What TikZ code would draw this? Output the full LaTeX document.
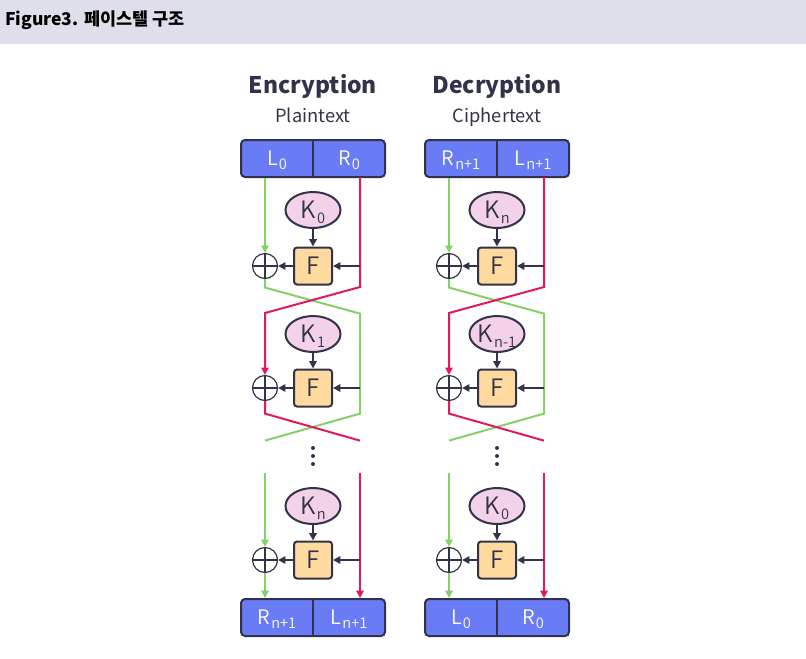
\documentclass[tikz,border=0pt]{standalone}
\usepackage{fontspec}
\setmainfont{Noto Sans CJK KR}
\newfontfamily\lightfont{Noto Sans CJK KR DemiLight}
\usetikzlibrary{shapes.geometric,arrows.meta}
\definecolor{hdr}{HTML}{DFDFEB}
\definecolor{dark}{HTML}{32324A}
\definecolor{boxblue}{HTML}{6A7BF6}
\definecolor{keypink}{HTML}{F3D1E8}
\definecolor{fnorange}{HTML}{FFDA9E}
\definecolor{grn}{HTML}{84D166}
\definecolor{crim}{HTML}{E2185C}
\newcommand{\lsub}[1]{\kern0.8pt\raisebox{-0.35ex}[0pt][0pt]{\fontsize{11}{11}\selectfont #1}}

\begin{document}
\begin{tikzpicture}[x=0.75pt, y=-0.75pt, >={Triangle[length=5.5pt,width=5.5pt]}]

    \tikzstyle{blk} = [draw=dark, line width=1.5pt, rounded corners=3pt, fill=boxblue, minimum width=108pt, minimum height=27.75pt, inner sep=0pt]
    \tikzstyle{lbl} = [text=white, font=\lightfont\fontsize{15}{15}\selectfont, inner sep=0pt]
    \tikzstyle{key} = [draw=dark, ellipse, line width=1.5pt, fill=keypink, minimum width=41.25pt, minimum height=27pt, inner sep=0pt, text=dark, font=\lightfont\fontsize{18}{18}\selectfont]
    \tikzstyle{fn} = [draw=dark, rounded corners=2.25pt, line width=1.5pt, fill=fnorange, minimum width=28.5pt, minimum height=27.75pt, inner sep=0pt, text=dark, font=\lightfont\fontsize{18}{18}\selectfont]
    \tikzstyle{xor} = [draw=dark, circle, line width=0.9pt, minimum size=18.75pt, inner sep=0pt, path picture={\draw[dark, line width=0.9pt] (path picture bounding box.north) -- (path picture bounding box.south) (path picture bounding box.west) -- (path picture bounding box.east);}]
    \tikzstyle{gline} = [grn, line width=1.5pt]
    \tikzstyle{rline} = [crim, line width=1.5pt]
    \tikzstyle{farrow} = [dark, line width=1.5pt]

    \useasboundingbox (0,0) rectangle (806,658);

    % Header
    \fill[hdr] (0,0) rectangle (806,44);
    \node[anchor=base west, inner sep=0pt, font=\bfseries\fontsize{13.1}{13.1}\selectfont] at (5,25) (title) {Figure3. 페이스텔 구조};

    % Labels
    \node[anchor=base, inner sep=0pt, text=dark, font=\bfseries\fontsize{17.2}{17.2}\selectfont] at (313,93) (enchead) {Encryption};
    \node[anchor=base, inner sep=0pt, text=dark, font=\fontsize{13.7}{13.7}\selectfont] at (313,122) (encsub) {Plaintext};
    \node[anchor=base, inner sep=0pt, text=dark, font=\bfseries\fontsize{17.2}{17.2}\selectfont] at (497,93) (dechead) {Decryption};
    \node[anchor=base, inner sep=0pt, text=dark, font=\fontsize{13.7}{13.7}\selectfont] at (497,122) (decsub) {Ciphertext};

    % Encryption nodes
    \node[blk] at (313,158.5) (ein) {};
    \node[lbl] at (277,158.5) (einL) {L\lsub{0}};
    \node[lbl] at (349,158.5) (einR) {R\lsub{0}};
    \node[key] at (313,210) (ek1) {K\lsub{0}};
    \node[fn] at (313,266) (ef1) {F};
    \node[xor] at (265,266) (ex1) {};
    \node[key] at (313,334) (ek2) {K\lsub{1}};
    \node[fn] at (313,388) (ef2) {F};
    \node[xor] at (265,388) (ex2) {};
    \node[key] at (313,506) (ek3) {K\lsub{n}};
    \node[fn] at (313,560) (ef3) {F};
    \node[xor] at (265,560) (ex3) {};
    \node[blk] at (313,617.5) (eout) {};
    \node[lbl] at (277,617.5) (eoutR) {R\lsub{n+1}};
    \node[lbl] at (349,617.5) (eoutL) {L\lsub{n+1}};
    \coordinate (etop) at (360,177);
    \coordinate (eg3) at (265,473);
    \coordinate (er3) at (360,473);

    % Encryption arrows
    \draw[dark, line width=1.2pt] (ein.north) -- (ein.south);
    \draw[dark, line width=1.2pt] (eout.north) -- (eout.south);
    \draw[gline,->] (ein.south -| ex1) -- (ex1);
    \draw[gline] (ex1.south) -- ++(0,8.5) -- ++(95,26) -- ++(0,100) -- ++(-95,27);
    \draw[rline,->] (etop) -- ++(0,110) -- ++(-95,26) -- (ex2);
    \draw[rline] (ex2.south) -- ++(0,12.5) -- ++(95,27);
    \draw[gline,->] (eg3) -- (ex3);
    \draw[gline,->] (ex3) -- (eout.north -| ex3);
    \draw[rline,->] (er3) -- (eout.north -| er3);
    \draw[farrow,->] (ek1) -- (ef1);
    \draw[farrow,->] (etop |- ef1) -- (ef1);
    \draw[farrow,->] (ef1) -- (ex1);
    \draw[farrow,->] (ek2) -- (ef2);
    \draw[farrow,->] (etop |- ef2) -- (ef2);
    \draw[farrow,->] (ef2) -- (ex2);
    \draw[farrow,->] (ek3) -- (ef3);
    \draw[farrow,->] (er3 |- ef3) -- (ef3);
    \draw[farrow,->] (ef3) -- (ex3);
    \fill[dark] (313,448) circle (1.5pt) (313,456) circle (1.5pt) (313,464) circle (1.5pt);

    % Decryption nodes
    \node[blk] at (497,158.5) (din) {};
    \node[lbl] at (461,158.5) (dinR) {R\lsub{n+1}};
    \node[lbl] at (533,158.5) (dinL) {L\lsub{n+1}};
    \node[key] at (497,210) (dk1) {K\lsub{n}};
    \node[fn] at (497,266) (df1) {F};
    \node[xor] at (449,266) (dx1) {};
    \node[key] at (497,334) (dk2) {K\lsub{n-1}};
    \node[fn] at (497,388) (df2) {F};
    \node[xor] at (449,388) (dx2) {};
    \node[key] at (497,506) (dk3) {K\lsub{0}};
    \node[fn] at (497,560) (df3) {F};
    \node[xor] at (449,560) (dx3) {};
    \node[blk] at (497,617.5) (dout) {};
    \node[lbl] at (461,617.5) (doutL) {L\lsub{0}};
    \node[lbl] at (533,617.5) (doutR) {R\lsub{0}};
    \coordinate (dtop) at (544,177);
    \coordinate (dg3) at (449,473);
    \coordinate (dr3) at (544,473);

    % Decryption arrows
    \draw[dark, line width=1.2pt] (din.north) -- (din.south);
    \draw[dark, line width=1.2pt] (dout.north) -- (dout.south);
    \draw[gline,->] (din.south -| dx1) -- (dx1);
    \draw[gline] (dx1.south) -- ++(0,8.5) -- ++(95,26) -- ++(0,100) -- ++(-95,27);
    \draw[rline,->] (dtop) -- ++(0,110) -- ++(-95,26) -- (dx2);
    \draw[rline] (dx2.south) -- ++(0,12.5) -- ++(95,27);
    \draw[gline,->] (dg3) -- (dx3);
    \draw[gline,->] (dx3) -- (dout.north -| dx3);
    \draw[rline,->] (dr3) -- (dout.north -| dr3);
    \draw[farrow,->] (dk1) -- (df1);
    \draw[farrow,->] (dtop |- df1) -- (df1);
    \draw[farrow,->] (df1) -- (dx1);
    \draw[farrow,->] (dk2) -- (df2);
    \draw[farrow,->] (dtop |- df2) -- (df2);
    \draw[farrow,->] (df2) -- (dx2);
    \draw[farrow,->] (dk3) -- (df3);
    \draw[farrow,->] (dr3 |- df3) -- (df3);
    \draw[farrow,->] (df3) -- (dx3);
    \fill[dark] (497,448) circle (1.5pt) (497,456) circle (1.5pt) (497,464) circle (1.5pt);

\end{tikzpicture}
\end{document}
